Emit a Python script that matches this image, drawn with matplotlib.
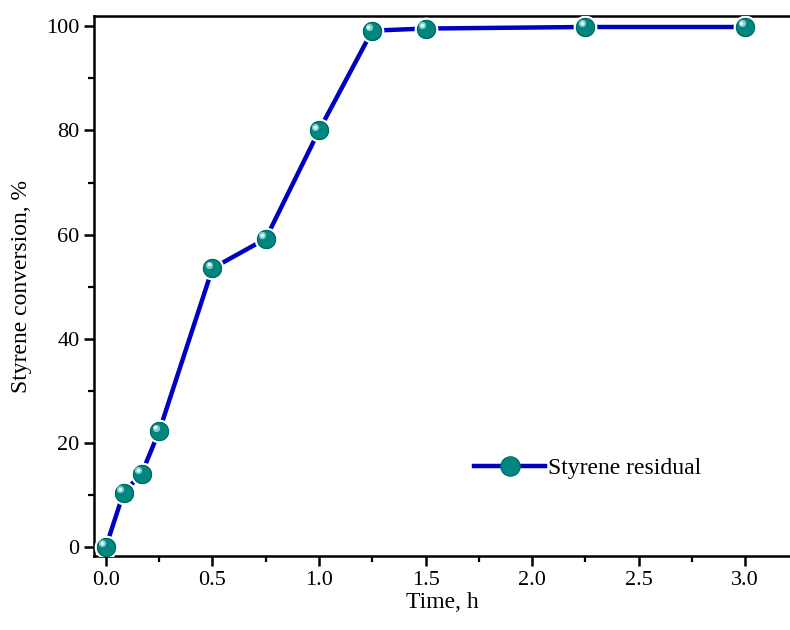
import matplotlib
matplotlib.use("Agg")
import matplotlib.pyplot as plt
import matplotlib.transforms as mtransforms
from matplotlib.ticker import MultipleLocator, FormatStrFormatter
from matplotlib.lines import Line2D
from matplotlib.legend_handler import HandlerLine2D

time_h = [0.0, 0.083, 0.167, 0.25, 0.5, 0.75, 1.0, 1.25, 1.5, 2.25, 3.0]
conversion = [0.0, 10.4, 14.0, 22.2, 53.5, 59.2, 80.0, 99.2, 99.6, 99.9, 99.9]
series_label = "Styrene residual"
x_label = "Time, h"
y_label = "Styrene conversion, %"

plt.rcParams["font.family"] = ["Liberation Serif", "DejaVu Serif"]

line_color = "#0000c0"
ball_color = "#00857f"
ball_dark = "#006a66"

fig = plt.figure(figsize=(7.9, 6.3), dpi=100)
ax = fig.add_axes([0.119, 0.1175, 0.881, 0.857])

ax.plot(time_h, conversion, color=line_color, lw=3.2, zorder=2)
ax.plot(time_h, conversion, ls="none", marker="o", ms=15.5,
        mfc=ball_color, mec="white", mew=1.6, zorder=3)
ax.plot(time_h, conversion, ls="none", marker="o", ms=13.0,
        mfc=ball_color, mec=ball_dark, mew=0.8, zorder=4)
# specular highlight on each ball
hl = mtransforms.offset_copy(ax.transData, fig=fig, x=-2.6, y=2.6, units="points")
ax.plot(time_h, conversion, ls="none", marker="o", ms=5.2,
        mfc="#7fd0cc", mec="none", transform=hl, zorder=5)
hl2 = mtransforms.offset_copy(ax.transData, fig=fig, x=-2.8, y=2.8, units="points")
ax.plot(time_h, conversion, ls="none", marker="o", ms=2.5,
        mfc="#e8fbfa", mec="none", transform=hl2, zorder=6)

ax.set_xlim(-0.056, 3.21)
ax.set_ylim(-1.8, 102.0)

ax.xaxis.set_major_locator(MultipleLocator(0.5))
ax.xaxis.set_minor_locator(MultipleLocator(0.25))
ax.yaxis.set_major_locator(MultipleLocator(20))
ax.yaxis.set_minor_locator(MultipleLocator(10))
ax.xaxis.set_major_formatter(FormatStrFormatter("%.1f"))
ax.yaxis.set_major_formatter(FormatStrFormatter("%d"))

ax.tick_params(which="major", direction="out", length=7.5, width=1.8,
               labelsize=16, pad=3, top=False, right=False)
ax.tick_params(which="minor", direction="out", length=4.5, width=1.6,
               top=False, right=False)
for side in ("left", "bottom", "top"):
    ax.spines[side].set_linewidth(1.8)
ax.spines["right"].set_visible(False)

ax.set_xlabel(x_label, fontsize=17, labelpad=2)
ax.set_ylabel(y_label, fontsize=17, labelpad=10)

handle = Line2D([], [], color=line_color, lw=3.2, marker="o", ms=14,
                mfc=ball_color, mec=ball_dark, mew=0.8)
ax.legend([handle], [series_label], loc="center left",
          bbox_to_anchor=(0.516, 0.162), frameon=False, fontsize=17,
          handlelength=3.0, handletextpad=0.1, numpoints=1,
          handler_map={handle: HandlerLine2D(numpoints=1)})

fig.savefig("out.png", dpi=100)
